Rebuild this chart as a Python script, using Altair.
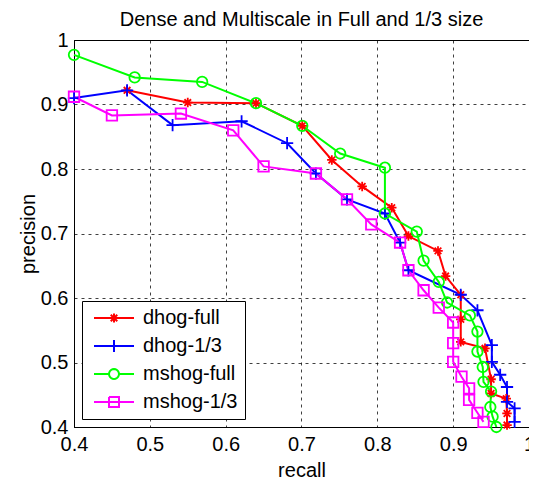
import math
import altair as alt
import pandas as pd

# ---------------- data ----------------
series = ["dhog-full", "dhog-1/3", "mshog-full", "mshog-1/3"]
colors = ["#ff0000", "#0000ff", "#00ff00", "#ff00ff"]

dhog_full_recall = [0.470, 0.550, 0.640, 0.701, 0.740, 0.780, 0.819, 0.841, 0.880, 0.890,
                    0.910, 0.910, 0.910, 0.942, 0.950, 0.950, 0.970, 0.971, 0.971]
dhog_full_precision = [0.922, 0.903, 0.902, 0.867, 0.814, 0.773, 0.740, 0.696, 0.673, 0.634,
                       0.605, 0.567, 0.532, 0.522, 0.474, 0.452, 0.444, 0.421, 0.403]

dhog_third_recall = [0.400, 0.470, 0.530, 0.621, 0.681, 0.719, 0.760, 0.810, 0.830, 0.841,
                     0.910, 0.932, 0.951, 0.951, 0.962, 0.971, 0.971, 0.981, 0.981]
dhog_third_precision = [0.910, 0.922, 0.868, 0.874, 0.840, 0.793, 0.753, 0.731, 0.686, 0.643,
                        0.605, 0.581, 0.527, 0.501, 0.481, 0.462, 0.439, 0.429, 0.408]

mshog_full_recall = [0.400, 0.480, 0.569, 0.640, 0.701, 0.751, 0.810, 0.810, 0.852, 0.861,
                     0.881, 0.892, 0.922, 0.932, 0.932, 0.939, 0.940, 0.950, 0.949, 0.952, 0.957]
mshog_full_precision = [0.977, 0.942, 0.935, 0.902, 0.867, 0.824, 0.802, 0.731, 0.703, 0.658,
                        0.625, 0.593, 0.573, 0.548, 0.517, 0.493, 0.470, 0.455, 0.431, 0.416, 0.400]

mshog_third_recall = [0.400, 0.450, 0.541, 0.610, 0.650, 0.719, 0.760, 0.792, 0.830, 0.841,
                      0.861, 0.881, 0.900, 0.900, 0.900, 0.911, 0.921, 0.921, 0.932, 0.940]
mshog_third_precision = [0.912, 0.883, 0.886, 0.860, 0.804, 0.793, 0.753, 0.714, 0.686, 0.643,
                         0.612, 0.585, 0.562, 0.530, 0.501, 0.478, 0.460, 0.442, 0.422, 0.408]

axis_ticks = [0.4, 0.5, 0.6, 0.7, 0.8, 0.9, 1.0]

# ---------------- marker styles ----------------
STAR = "M-1,0L1,0M0,-1L0,1M-0.7,-0.7L0.7,0.7M-0.7,0.7L0.7,-0.7"
PLUS = "M-1,0L1,0M0,-1L0,1"
markers = {"dhog-full": STAR, "dhog-1/3": PLUS, "mshog-full": "circle", "mshog-1/3": "square"}
msizes = {"dhog-full": 90, "dhog-1/3": 150, "mshog-full": 110, "mshog-1/3": 110}

# legend symbols: a line segment with the marker in its middle (1 unit = 5px)
ring = "M4,0" + "".join(
    "L{:.3f},{:.3f}".format(3 + math.cos(2 * math.pi * k / 20), math.sin(2 * math.pi * k / 20))
    for k in range(1, 21)
)
legend_paths = [
    "M-1,0L7,0M3,-0.9L3,0.9M2.35,-0.65L3.65,0.65M2.35,0.65L3.65,-0.65",
    "M-1,0L7,0M3,-1.2L3,1.2",
    "M-1,0L2,0M4,0L7,0" + ring,
    "M-1,0L7,0M2,-1L4,-1L4,1L2,1L2,-1",
]

rows = []
for name, rec, prec in [
    ("dhog-full", dhog_full_recall, dhog_full_precision),
    ("dhog-1/3", dhog_third_recall, dhog_third_precision),
    ("mshog-full", mshog_full_recall, mshog_full_precision),
    ("mshog-1/3", mshog_third_recall, mshog_third_precision),
]:
    for i, (r, p) in enumerate(zip(rec, prec)):
        rows.append({"series": name, "recall": r, "precision": p, "idx": i,
                     "marker": markers[name], "msize": msizes[name]})
df = pd.DataFrame(rows)

FONT = "Liberation Sans"
LABEL_EXPR = "datum.value == 1 ? '1' : format(datum.value, '.1f')"

x_enc = alt.X("recall:Q", title="recall",
              scale=alt.Scale(domain=[0.4, 1.0], nice=False, zero=False),
              axis=alt.Axis(values=axis_ticks, labelExpr=LABEL_EXPR, labelFlush=False))
y_enc = alt.Y("precision:Q", title="precision",
              scale=alt.Scale(domain=[0.4, 1.0], nice=False, zero=False),
              axis=alt.Axis(values=axis_ticks, labelExpr=LABEL_EXPR, labelFlush=False))
color_scale = alt.Scale(domain=series, range=colors)

legend_cfg = alt.Legend(
    title=None, orient="bottom-left", offset=8,
    fillColor="white", strokeColor="black", padding=7,
    labelFont=FONT, labelFontSize=20, labelColor="black", labelOffset=34,
    symbolSize=100, symbolStrokeWidth=2, symbolOpacity=1, rowPadding=8, labelLimit=300,
)
color_enc = alt.Color("series:N", scale=color_scale, legend=legend_cfg)

base = alt.Chart(df)

lines = base.mark_line(strokeWidth=2).encode(
    x=x_enc, y=y_enc, color=color_enc, order=alt.Order("idx:Q"),
)

points = base.mark_point(filled=False, strokeWidth=1.8, opacity=1).encode(
    x=x_enc, y=y_enc, color=color_enc,
    shape=alt.Shape("marker:N", scale=None),
    size=alt.Size("msize:Q", scale=None),
)

# invisible layer that only carries the legend (line + marker symbols)
legend_layer = base.mark_point(filled=False, opacity=0).encode(
    x=x_enc, y=y_enc, color=color_enc,
    shape=alt.Shape("series:N", scale=alt.Scale(domain=series, range=legend_paths),
                    legend=legend_cfg),
)

chart = alt.layer(lines, points, legend_layer).properties(
    width=455, height=387,
    title=alt.Title("Dense and Multiscale in Full and 1/3 size", font=FONT, fontSize=20,
                    fontWeight="normal", color="black", offset=0),
    autosize=alt.AutoSizeParams(type="none"),
    padding={"left": 66, "top": 32, "right": 0, "bottom": 52},
).configure_view(
    stroke="black", strokeWidth=1
).configure_axis(
    labelFont=FONT, labelFontSize=20, labelColor="black",
    titleFont=FONT, titleFontSize=20, titleFontWeight="normal", titleColor="black",
    domainColor="black", domainWidth=1, ticks=False,
    grid=True, gridColor="#000000", gridOpacity=0.75, gridDash=[3, 4], gridWidth=1,
).configure_axisX(
    labelPadding=7, titlePadding=6
).configure_axisY(
    labelPadding=6, titlePadding=2
)

chart.save("out.html", embed_options={"renderer": "svg", "actions": False})
